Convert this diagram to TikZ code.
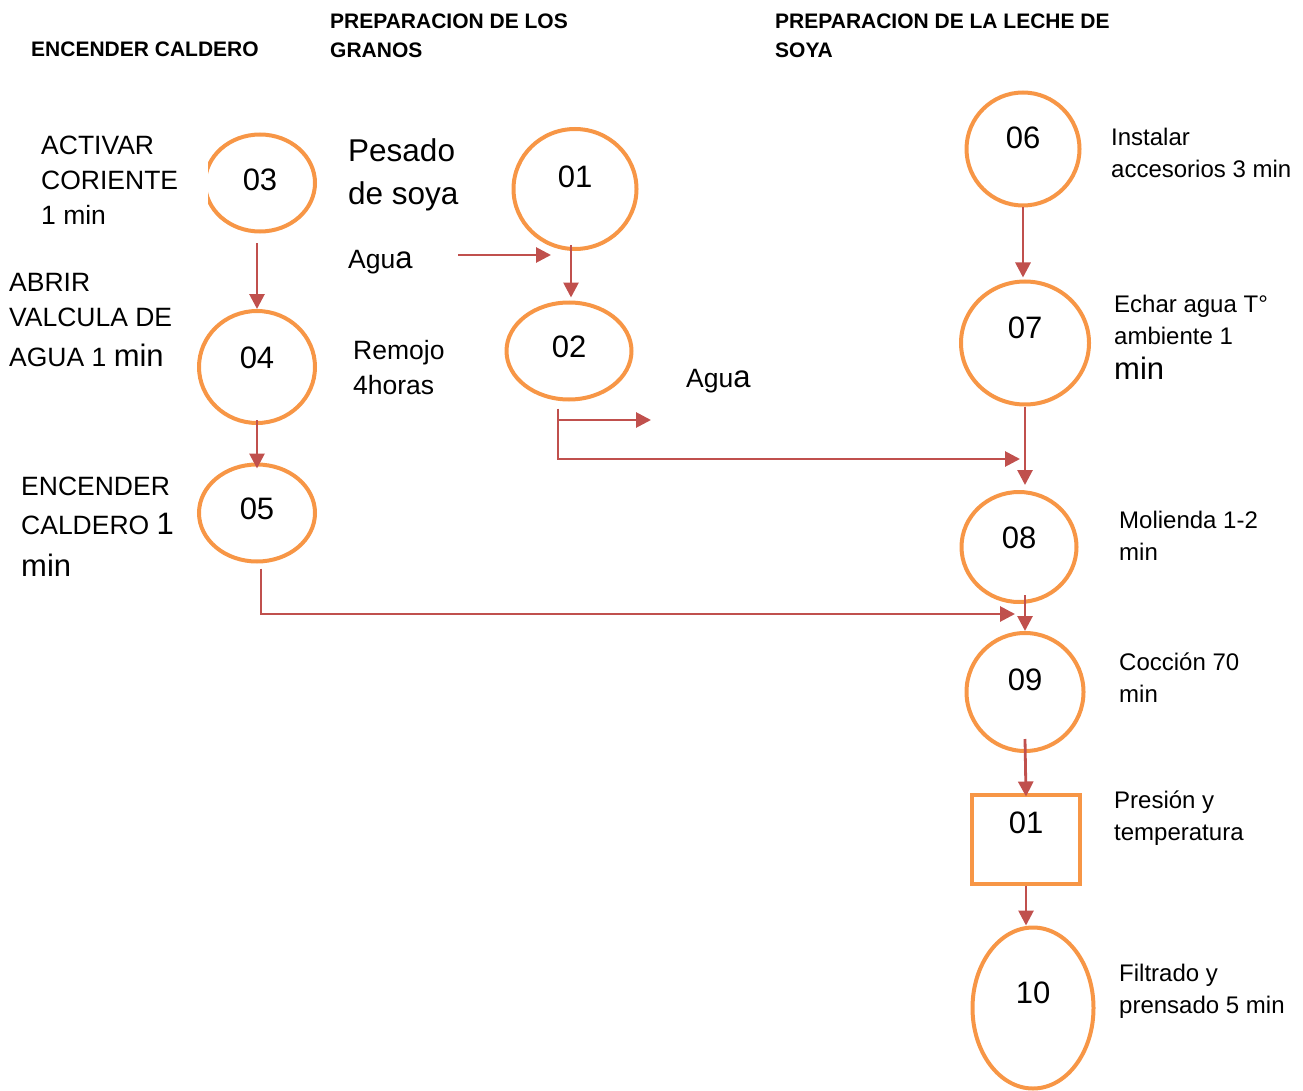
\documentclass[tikz,border=0pt]{standalone}
\usepackage{fontspec}
\setmainfont{Liberation Sans}
\usetikzlibrary{shapes.geometric,arrows.meta,calc}
\definecolor{naranja}{HTML}{F79646}
\definecolor{rojo}{HTML}{C0504D}
\tikzset{
  etapa/.style={draw=naranja, line width=4pt, ellipse, inner sep=0pt},
  control/.style={draw=naranja, line width=4pt, rectangle, inner sep=0pt},
  num/.style={inner sep=0pt, font=\fontsize{31}{36}\selectfont},
  flecha/.style={draw=rojo, line width=2.8pt, -{Triangle[length=15pt,width=15pt]}},
  texto/.style={anchor=north west, inner sep=0pt, align=left, font=\fontsize{26.5}{35}\selectfont},
  nota/.style={anchor=north west, inner sep=0pt, align=left, font=\fontsize{24}{32}\selectfont},
  titulo/.style={anchor=north west, inner sep=0pt, align=left, font=\bfseries\fontsize{21}{29}\selectfont}
}
\newcommand{\grande}[1]{{\fontsize{31}{35}\selectfont #1}}
\begin{document}
\begin{tikzpicture}[x=1pt,y=-1pt]
\useasboundingbox (0,0) rectangle (1303,1091);

\node (tit1) [titulo] at (31,42) {ENCENDER CALDERO};
\node (tit2) [titulo] at (330,14) {PREPARACION DE LOS\\GRANOS};
\node (tit3) [titulo] at (775,14) {PREPARACION DE LA LECHE DE\\SOYA};

\begin{scope}
  \clip (208,100) rectangle (340,250);
  \node (c03) [etapa, minimum width=110pt, minimum height=97pt] at (260,183) {};
\end{scope}
\node (c04) [etapa, minimum width=116pt, minimum height=112pt] at (257,367) {};
\node (c05) [etapa, minimum width=116pt, minimum height=97pt] at (257,513) {};
\node (c01) [etapa, minimum width=123pt, minimum height=120pt] at (575,189) {};
\node (c02) [etapa, minimum width=125pt, minimum height=97pt] at (569,351) {};
\node (c06) [etapa, minimum width=113pt, minimum height=113pt] at (1023,149) {};
\node (c07) [etapa, minimum width=128pt, minimum height=123pt] at (1025,343) {};
\node (c08) [etapa, minimum width=115pt, minimum height=110pt] at (1019,547) {};
\node (c09) [etapa, minimum width=117pt, minimum height=118pt] at (1025,692) {};
\node (b01) [control, minimum width=108pt, minimum height=89pt] at (1026,839) {};
\node (c10) [etapa, minimum width=121pt, minimum height=161pt] at (1033,1008) {};

\node (n03) [num, yshift=3pt] at (c03) {03};
\node (n04) [num, yshift=9pt] at (c04) {04};
\node (n05) [num, yshift=4pt] at (c05) {05};
\node (n01) [num, yshift=12pt] at (c01) {01};
\node (n02) [num, yshift=4pt] at (c02) {02};
\node (n06) [num, yshift=11pt] at (c06) {06};
\node (n07) [num, yshift=15pt] at (c07) {07};
\node (n08) [num, yshift=9pt] at (c08) {08};
\node (n09) [num, yshift=12pt] at (c09) {09};
\node (nb01) [num, yshift=16pt] at (b01) {01};
\node (n10) [num, yshift=15pt] at (c10) {10};

\node (activar) [texto] at (41,136) {ACTIVAR\\CORIENTE\\1 min};
\node (abrir) [texto] at (9,273) {ABRIR\\VALCULA DE\\[5pt]AGUA 1 \grande{min}};
\node (encender) [texto] at (21,477) {ENCENDER\\[4pt]CALDERO \grande{1}\\[7pt]\grande{min}};
\node (pesado) [texto, font=\fontsize{31.5}{43}\selectfont] at (348,138) {Pesado\\de soya};
\node (agua1) [texto, anchor=base west] at (348,269) {Agu\grande{a}};
\node (remojo) [texto] at (353,340) {Remojo\\4horas};
\node (agua2) [texto, anchor=base west] at (686,387) {Agu\grande{a}};
\node (instalar) [nota] at (1111,128) {Instalar\\accesorios 3 min};
\node (echar) [nota] at (1114,295) {Echar agua T°\\ambiente 1\\[3pt]\grande{min}};
\node (molienda) [nota] at (1119,511) {Molienda 1-2\\min};
\node (coccion) [nota] at (1119,653) {Cocción 70\\min};
\node (presion) [nota] at (1114,791) {Presión y\\temperatura};
\node (filtrado) [nota] at (1119,964) {Filtrado y\\prensado 5 min};

\coordinate (a1ini) at (458,255);
\coordinate (a1fin) at (551,255);
\coordinate (ramal) at (558,420);
\coordinate (a2fin) at (651,420);
\coordinate (e08) at (1020,459);
\coordinate (e09) at (1015,614);

\draw[flecha] ($(c03.south -| c04.north)+(0,10)$) -- (c04.north);
\draw[flecha] ($(c04.south)+(0,-5)$) -- ($(c05.north)+(0,6)$);
\draw[flecha] (a1ini) -- (a1fin);
\draw[flecha] ($(c01.south)+(-4,-6)$) -- ($(c02.north)+(2,-3)$);
\draw[flecha] ($(c02.south)+(-11,7)$) |- (e08);
\draw[flecha] (ramal) -- (a2fin);
\draw[flecha] (c06.south) -- ($(c06.south |- c07.north)+(0,-2)$);
\draw[flecha] (c07.south) -- ($(c07.south |- c08.north)+(0,-5)$);
\draw[flecha] ($(c05.south)+(4,5)$) |- (e09);
\draw[flecha] ($(c08.south)+(6,-9)$) -- (c09.north);
\draw[flecha] ($(c09.south)+(0,-14)$) -- ($(b01.north)+(0,4)$);
\draw[flecha] (b01.south) -- (b01.south |- c10.north);
\end{tikzpicture}
\end{document}
